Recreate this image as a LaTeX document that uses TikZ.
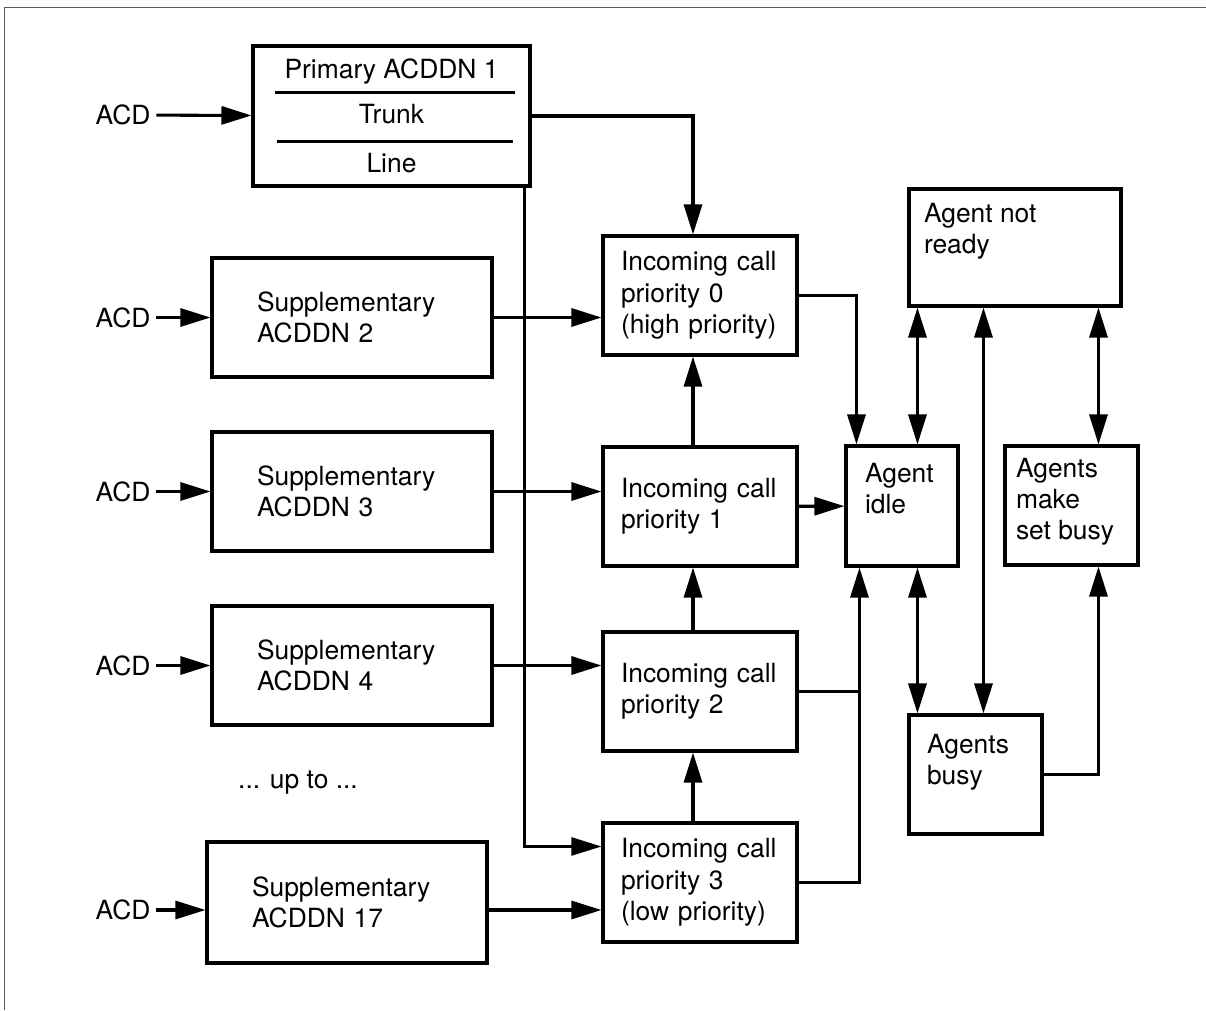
\documentclass[tikz,border=0pt]{standalone}
\usepackage{fontspec}
\setmainfont{TeX Gyre Heros}
\usetikzlibrary{arrows.meta}

\tikzset{
  box/.style={draw, inner sep=0pt},
  sup/.style={box, minimum width=210pt, minimum height=89.25pt, text width=142.5pt, align=left},
  prio/.style={box, minimum width=145.5pt, minimum height=89.25pt, text width=118.5pt, align=left},
  tl/.style={anchor=north west, inner sep=0pt, align=left},
  arr/.style={-{Triangle[length=22.5pt,width=13.5pt]}},
  dbl/.style={{Triangle[length=22.5pt,width=13.5pt]}-{Triangle[length=22.5pt,width=13.5pt]}},
}

\begin{document}
\begin{tikzpicture}[x=0.75pt,y=-0.75pt,line width=2.3pt,font=\fontsize{19.8}{23.5}\selectfont]
\useasboundingbox (0,0) rectangle (1206,1010);
\draw [black!65, line width=0.75pt] (4,1010) -- (4,7) -- (1206,7);

% ACD inputs and DN boxes
\node (acd1) at (123,115) {ACD};
\node (acd2) at (123,317.5) {ACD};
\node (acd3) at (123,491.5) {ACD};
\node (acd4) at (123,665.5) {ACD};
\node (acd5) at (123,910) {ACD};

\node [box, minimum width=207.75pt, minimum height=105pt, align=center] (prim) at (391.5,116) {Primary ACDDN 1\\[10.5pt]Trunk\\[13pt]Line};
\draw ([shift={(24,48)}]prim.north west) -- ([shift={(-17,48)}]prim.north east);
\draw ([shift={(26,97)}]prim.north west) -- ([shift={(-19,97)}]prim.north east);

\node [sup] (sup2) at (352,317.5) {Supplementary\\ACDDN 2};
\node [sup] (sup3) at (352,491.5) {Supplementary\\ACDDN 3};
\node [sup] (sup4) at (352,665.5) {Supplementary\\ACDDN 4};
\node [sup, minimum height=90.75pt] (sup17) at (347,902.5) {Supplementary\\ACDDN 17};
\node (upto) at (298,783) {... up to ...};

% priority queues
\node [prio] (p0) at (700,295.5) {Incoming call\\priority 0\\(high priority)};
\node [prio] (p1) at (700,506.5) {Incoming call\\priority 1};
\node [prio] (p2) at (700,691.5) {Incoming call\\priority 2};
\node [prio] (p3) at (700,882.5) {Incoming call\\priority 3\\(low priority)};

% agent states
\node [box, minimum width=84pt, minimum height=90pt,
  label={[tl, xshift=14.25pt, yshift=-12.75pt]north west:Agent\\idle}] (idle) at (902,506) {};
\node [box, minimum width=159pt, minimum height=87.75pt,
  label={[tl, xshift=11.25pt, yshift=-10.5pt]north west:Agent not\\ready}] (notready) at (1015,247.5) {};
\node [box, minimum width=99.75pt, minimum height=89.25pt,
  label={[tl, xshift=8.25pt, yshift=-9pt]north west:Agents\\make\\set busy}] (setbusy) at (1071.5,505.5) {};
\node [box, minimum width=99.75pt, minimum height=89.25pt,
  label={[tl, xshift=13.5pt, yshift=-14.25pt]north west:Agents\\busy}] (busy) at (975.5,774.5) {};

% connectors
\draw [arr] (acd1) -- (prim);
\draw [arr] (acd2) -- (sup2);
\draw [arr] (acd3) -- (sup3);
\draw [arr] (acd4) -- (sup4);
\draw [arr] (acd5) -- (acd5 -| sup17.west);

\draw [arr] (sup2) -- (sup2 -| p0.west);
\draw [arr] (sup3) -- (sup3 -| p1.west);
\draw [arr] (sup4) -- (sup4 -| p2.west);
\draw [arr] (acd5 -| sup17.east) -- (acd5 -| p3.west);

\draw [arr] (prim.east) -| ([xshift=-5.25pt]p0.north);
\draw [arr, line width=1.8pt] ([xshift=-5.25pt]prim.south east) |- ([yshift=-18.75pt]p3.north west);

\foreach \lo/\hi in {p1/p0, p2/p1, p3/p2}
  \draw [arr] ([xshift=-5.25pt]\lo.north) -- ([xshift=-5.25pt]\hi.south);

\draw [arr] (p0.east) -| ([xshift=9pt]idle.north west);
\draw [arr] (p1) -- (idle);
\coordinate (idlein) at ([xshift=11.25pt]idle.south west);
\draw [arr] (p3.east) -| (idlein);
\draw (p2.east) -- (p2.east -| idlein);

\coordinate (nr1) at ([xshift=7.5pt]notready.south west);
\coordinate (b1) at ([xshift=7.5pt]busy.north west);
\coordinate (b2) at ([xshift=57pt]busy.north west);
\coordinate (s1) at ([xshift=71.25pt]setbusy.north west);
\draw [dbl] (nr1) -- (nr1 |- idle.north);
\draw [dbl] (b1) -- (b1 |- idle.south);
\draw [dbl] (b2) -- (b2 |- notready.south);
\draw [dbl] (s1) -- (s1 |- notready.south);
\draw [arr] (busy.east) -| (s1 |- setbusy.south);

\end{tikzpicture}
\end{document}
